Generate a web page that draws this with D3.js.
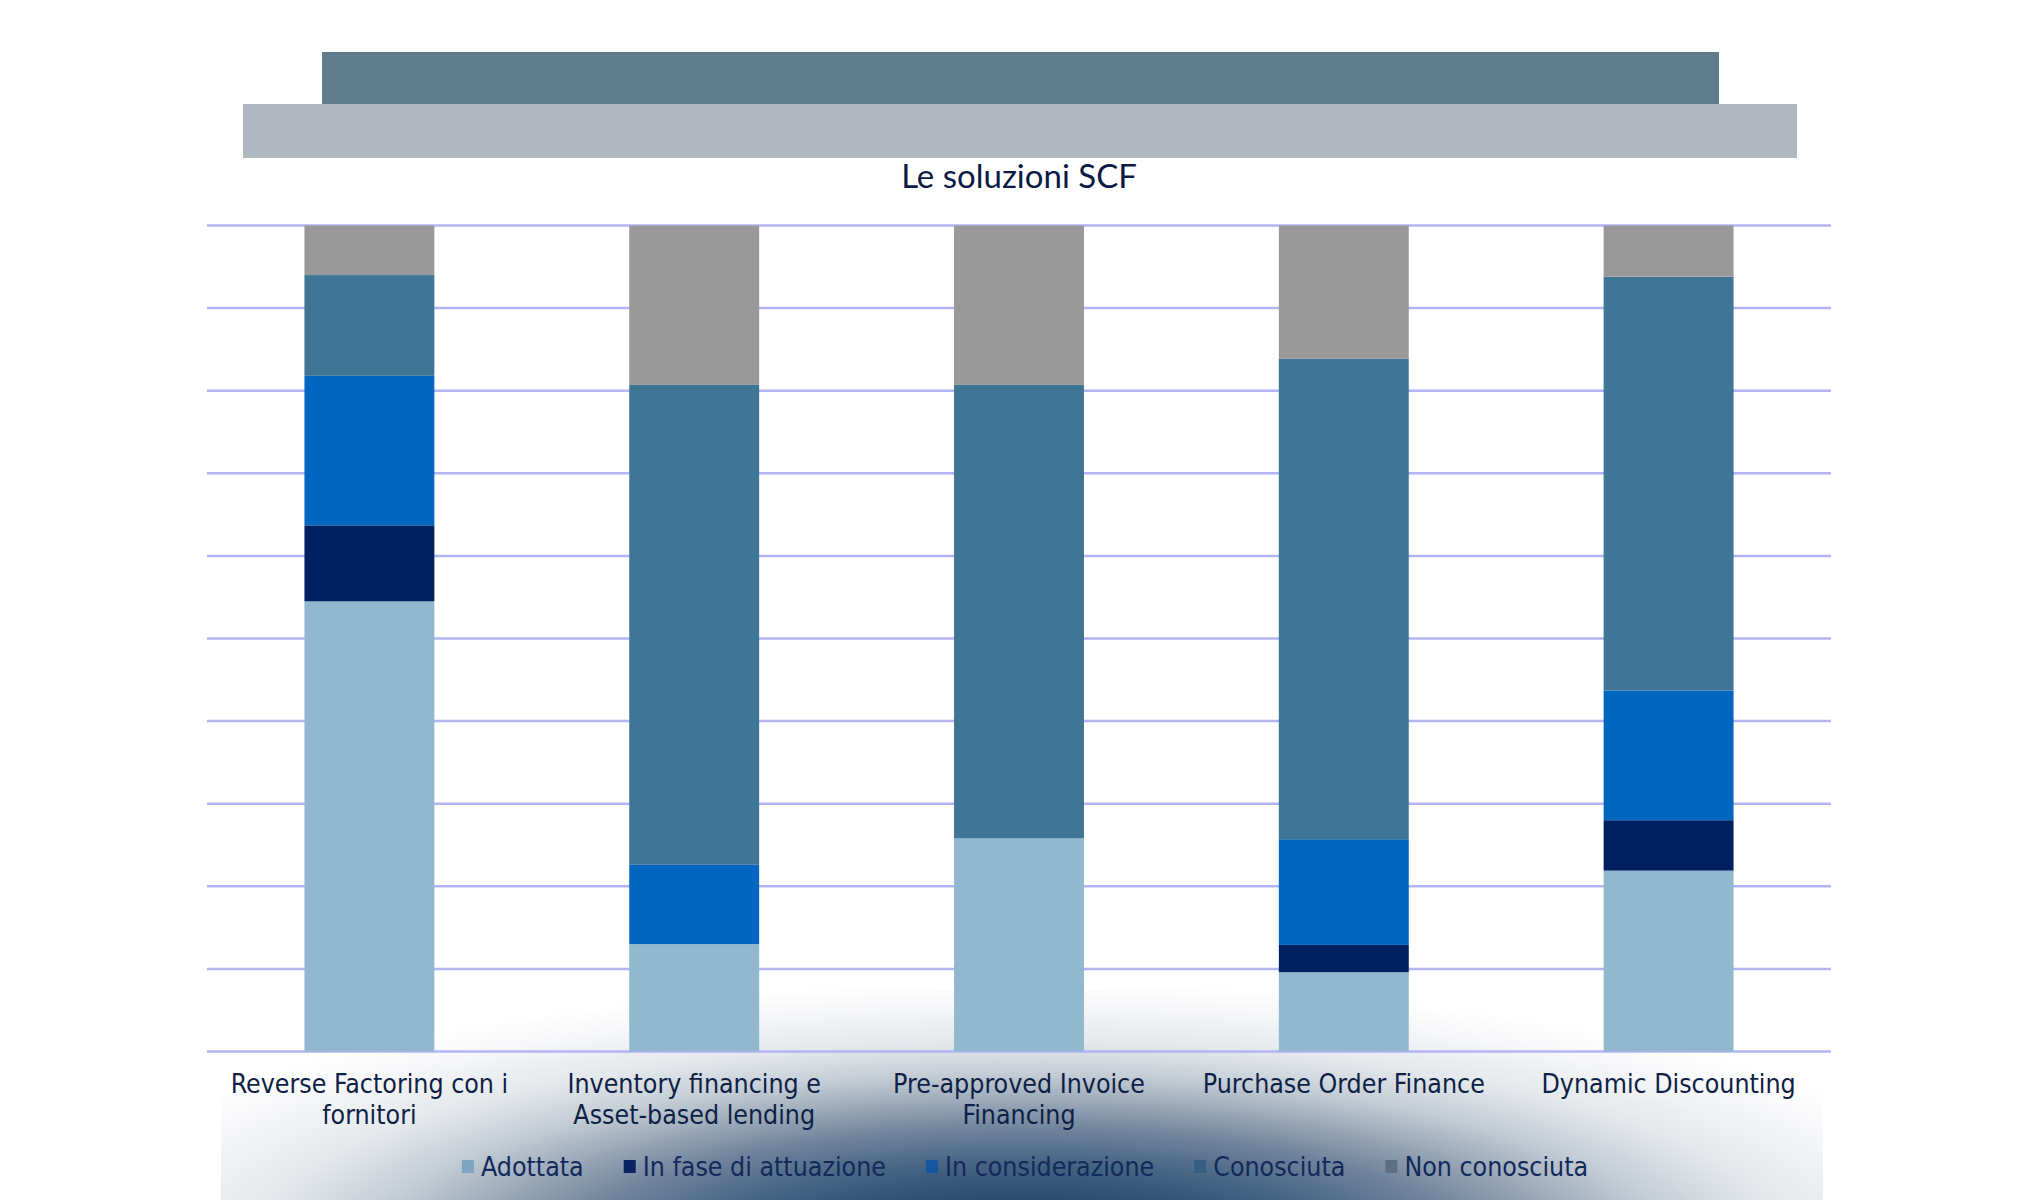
<!DOCTYPE html>
<html>
<head>
<meta charset="utf-8">
<script src="https://cdn.jsdelivr.net/npm/d3@7"></script>
<style>
  html, body { margin: 0; padding: 0; background: #ffffff; }
  svg { display: block; }
</style>
</head>
<body>
<svg id="chart" width="2040" height="1200"></svg>
<script>
// ---- data ----
const title = "Le soluzioni SCF";
const categories = [
  "Reverse Factoring con i\nfornitori",
  "Inventory financing e\nAsset-based lending",
  "Pre-approved Invoice\nFinancing",
  "Purchase Order Finance",
  "Dynamic Discounting"
];
const seriesNames = ["Adottata", "In fase di attuazione", "In considerazione", "Conosciuta", "Non conosciuta"];
const adottata      = [54.5, 13.0, 25.8,  9.6, 21.9];
const inFase        = [ 9.2,  0.0,  0.0,  3.3,  6.1];
const inConsiderazione = [18.1, 9.6, 0.0, 12.8, 15.7];
const conosciuta    = [12.2, 58.1, 54.9, 58.2, 50.1];
const nonConosciuta = [ 6.0, 19.3, 19.3, 16.1,  6.2];
const yTicks = [0, 10, 20, 30, 40, 50, 60, 70, 80, 90, 100];

const seriesValues = [adottata, inFase, inConsiderazione, conosciuta, nonConosciuta];
const colors = ["#92B8D0", "#002060", "#0066BF", "#3F7695", "#999999"];
const legendColors = ["#7FA6C0", "#0B2362", "#14579E", "#355F82", "#5F6E80"];

const rows = categories.map((c, i) => {
  const r = { cat: c };
  seriesNames.forEach((s, j) => r[s] = seriesValues[j][i]);
  return r;
});

const svg = d3.select("#chart");
const labelFont = "'DejaVu Sans Condensed', 'DejaVu Sans', sans-serif";

// background gradient (bottom)
const defs = svg.append("defs");
const rg = defs.append("radialGradient")
  .attr("id", "bg")
  .attr("gradientUnits", "userSpaceOnUse")
  .attr("cx", 0).attr("cy", 0).attr("r", 1000)
  .attr("gradientTransform", "translate(1020,1250) scale(1,0.27)");
[[0, "#24436a"], [0.19, "#2c4b6e"], [0.32, "#456382"], [0.45, "#6f849c"], [0.54, "#95a4b5"],
 [0.65, "#c3ccd5"], [0.77, "#e4e8ec"], [0.9, "#f5f6f8"], [1, "#ffffff"]]
  .forEach(([o, c]) => rg.append("stop").attr("offset", o).attr("stop-color", c));
svg.append("rect").attr("x", 221).attr("y", 990).attr("width", 1602).attr("height", 210)
  .attr("fill", "url(#bg)");

// header bars
svg.append("rect").attr("x", 322).attr("y", 52).attr("width", 1397).attr("height", 52).attr("fill", "#5F7B8C");
svg.append("rect").attr("x", 243).attr("y", 104).attr("width", 1554).attr("height", 54).attr("fill", "#B0B7BF");

// title
svg.append("text").attr("x", 1019).attr("y", 188).attr("text-anchor", "middle")
  .attr("font-family", "Lato, 'Open Sans', sans-serif").attr("font-size", 33)
  .attr("fill", "#0B1A45").text(title);

// scales
const x = d3.scaleBand().domain(categories).range([207, 1831]).paddingInner(0.6).paddingOuter(0.3);
const y = d3.scaleLinear().domain([0, 100]).range([1051.5, 225.5]);

// gridlines
svg.append("g").selectAll("line").data(yTicks).join("line")
  .attr("x1", 207).attr("x2", 1831)
  .attr("y1", d => y(d)).attr("y2", d => y(d))
  .attr("stroke", "#B4B4F5").attr("stroke-width", 2.5);

// stacked bars
const stack = d3.stack().keys(seriesNames);
const stacked = stack(rows);
svg.append("g").selectAll("g").data(stacked).join("g")
  .attr("fill", (d, i) => colors[i])
  .selectAll("rect").data(d => d).join("rect")
  .attr("x", d => x(d.data.cat))
  .attr("width", x.bandwidth())
  .attr("y", d => y(d[1]))
  .attr("height", d => Math.max(0, y(d[0]) - y(d[1])));

// x axis labels
const xAxis = d3.axisBottom(x).tickSize(0).tickPadding(0);
const gx = svg.append("g").attr("transform", "translate(0,1051.5)").call(xAxis);
gx.select(".domain").remove();
gx.selectAll(".tick text").each(function(d) {
  const t = d3.select(this);
  t.text(null).attr("y", 0).attr("dy", null)
    .attr("font-family", labelFont).attr("font-size", 26.5).attr("fill", "#0F1F45");
  d.split("\n").forEach((line, i) => {
    t.append("tspan").attr("x", 0).attr("y", 41 + i * 31).text(line);
  });
});

// legend
const lg = svg.append("g");
const items = lg.selectAll("g").data(seriesNames).join("g");
items.append("rect").attr("width", 12).attr("height", 13).attr("y", -7)
  .attr("fill", (d, i) => legendColors[i]);
items.append("text").attr("x", 19).attr("y", 9)
  .attr("font-family", labelFont).attr("font-size", 26.5).attr("fill", "#13295A").text(d => d);
let cx = 0;
const positions = [];
const gap = 40;
items.each(function() {
  const w = d3.select(this).select("text").node().getComputedTextLength();
  positions.push(cx);
  cx += 19 + w + gap;
});
const totalW = cx - gap;
const startX = 1025 - totalW / 2;
items.attr("transform", (d, i) => `translate(${startX + positions[i]},1167)`);
</script>
</body>
</html>
